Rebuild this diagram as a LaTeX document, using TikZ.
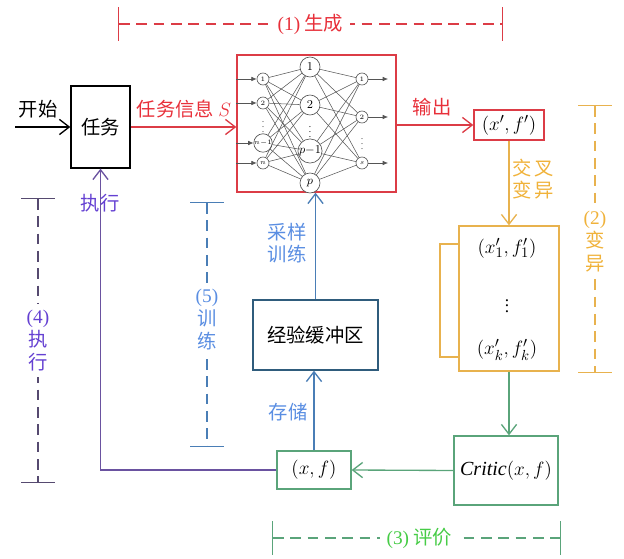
\documentclass[tikz,border=0pt]{standalone}
\usepackage{fontspec}
\setmainfont{Liberation Serif}
\newfontfamily\cjk{Noto Sans CJK SC}
\usepackage{tikz}
\usetikzlibrary{arrows.meta, calc}
\definecolor{genred}{HTML}{DC3C46}
\definecolor{gentext}{HTML}{E8303A}
\definecolor{mutgold}{HTML}{E8B24E}
\definecolor{muttext}{HTML}{F0B23A}
\definecolor{evalgreen}{HTML}{5AA47A}
\definecolor{evaltext}{HTML}{46CC46}
\definecolor{trainblue}{HTML}{4A7EB6}
\definecolor{traintext}{HTML}{5A8EE2}
\definecolor{bufferblue}{HTML}{2F5C7C}
\definecolor{execpurple}{HTML}{6A52A0}
\definecolor{exectext}{HTML}{6440D2}
\definecolor{execdark}{HTML}{564A70}
\definecolor{nngray}{HTML}{555555}
\tikzset{
  cn/.style={font=\cjk\fontsize{14.5}{17}\selectfont, align=center, inner sep=1pt},
  box/.style={draw, line width=1pt, fill=white, align=center, font=\fontsize{15}{17}\selectfont, inner sep=2pt},
  tip/.style={-{Straight Barb[length=2.6mm, width=4mm]}},
  flow/.style={tip, line width=1pt},
  phase/.style={line width=1pt, dash pattern=on 8pt off 5pt, {Bar[width=25pt]}-{Bar[width=25pt]}},
  phaselabel/.style={cn, fill=white, inner sep=5pt},
  inneuron/.style={circle, draw=nngray, fill=white, line width=0.5pt, minimum size=9pt, inner sep=0pt, font=\fontsize{5.5}{5.5}\selectfont},
  hidneuron/.style={circle, draw=nngray, fill=white, line width=0.5pt, minimum size=15pt, inner sep=0pt, font=\fontsize{9}{9}\selectfont},
  synapse/.style={draw=nngray, line width=0.4pt},
  nnarrow/.style={draw=nngray, line width=0.5pt, -{Latex[length=1.4mm, width=1.2mm]}},
}

\begin{document}
\begin{tikzpicture}[x=0.75pt, y=-0.75pt]
  \useasboundingbox (0,0) rectangle (624,559);

  % Main blocks
  \node[box, draw=black, cn, minimum width=44.25pt, minimum height=61.5pt] (task) at (100.5,127) {任务};
  \node[box, draw=genred, minimum width=119.25pt, minimum height=102.75pt, fill=none] (nn) at (316.5,123.5) {};
  \node[box, draw=genred, minimum width=52.5pt, minimum height=22.5pt] (out) at (509,125) {$(x',f')$};
  \node[box, draw=mutgold, minimum width=75pt, minimum height=108.75pt] (pop) at (509,298.5) {};
  \node[box, draw=evalgreen, minimum width=78pt, minimum height=51.75pt] (critic) at (506,470.5) {\textit{Critic}$(x,f)$};
  \node[box, draw=evalgreen, minimum width=55.5pt, minimum height=28.5pt] (xf) at (314,470) {$(x,f)$};
  \node[box, draw=bufferblue, cn, minimum width=93.75pt, minimum height=52.5pt] (buffer) at (315.5,335) {经验缓冲区};

  % Population inside the mutation box
  \node[font=\fontsize{15}{17}\selectfont] (p1) at (507,248) {$(x'_1,f'_1)$};
  \node[font=\fontsize{13}{15}\selectfont] (pdots) at (507,302) {$\vdots$};
  \node[font=\fontsize{15}{17}\selectfont] (pk) at (507,350) {$(x'_k,f'_k)$};

  % Neural network
  \foreach \i/\y/\t in {1/79/1, 2/103/2, 3/143/{n{-}1}, 4/163/n}
    \node[inneuron] (in\i) at (263,\y) {$\t$};
  \foreach \i/\y/\t in {1/67/1, 2/105/2, 3/151/{p{-}1}, 4/183/p}
    \node[hidneuron] (h\i) at (310,\y) {$\t$};
  \foreach \i/\y/\t in {1/79/1, 2/117/2, 3/163/s}
    \node[inneuron] (o\i) at (362,\y) {$\t$};
  \node[font=\fontsize{6}{6}\selectfont] (indots) at (263,123) {$\vdots$};
  \node[font=\fontsize{7}{7}\selectfont] (hdots) at (310,128) {$\vdots$};
  \node[font=\fontsize{6}{6}\selectfont] (odots) at (362,140) {$\vdots$};
  \foreach \i in {1,...,4}
    \foreach \j in {1,...,4}
      \draw[synapse] (in\i) -- (h\j);
  \foreach \j in {1,...,4}
    \foreach \k in {1,...,3}
      \draw[synapse] (h\j) -- (o\k);
  \coordinate (nnout) at (388,0);
  \foreach \i in {1,...,4}
    \draw[nnarrow] (in\i -| nn.west) -- (in\i);
  \foreach \k in {1,...,3}
    \draw[nnarrow] (o\k) -- (o\k -| nnout);

  % Connectors
  \coordinate (start) at (15,127);
  \draw[flow, draw=black] (start) -- (task.west);
  \node[cn] (startlbl) at (38,109) {开始};
  \draw[flow, draw=genred] (task.east |- start) -- (nn.west |- start);
  \node[cn, text=gentext] (infolbl) at (184,109) {任务信息 $S$};
  \draw[flow, draw=genred] (nn.east |- out) -- (out.west);
  \node[cn, text=gentext] (outlbl) at (432,107) {输出};
  \draw[flow, draw=mutgold] (out.south) -- (out.south |- pop.north);
  \node[cn, text=muttext] (crosslbl) at (533,179) {交\,叉\\变\,异};
  \coordinate (lp1) at (440,244);
  \coordinate (lp2) at (440,357);
  \draw[mutgold, line width=1pt] (pop.west |- lp1) -- (lp1) -- (lp2) -- (pop.west |- lp2);
  \draw[flow, draw=evalgreen] (pop.south) -- (pop.south |- critic.north);
  \draw[flow, draw=evalgreen] (critic.west) -- (xf.east);
  \draw[flow, draw=trainblue] (xf.north) -- (xf.north |- buffer.south);
  \node[cn, text=traintext] (storelbl) at (288,412) {存储};
  \draw[flow, draw=trainblue] (buffer.north) -- (buffer.north |- nn.south);
  \node[cn, text=traintext] (samplelbl) at (287,243) {采样\\训练};
  \draw[flow, draw=execpurple] (xf.west) -- (xf.west -| task.south) -- (task.south);
  \node[cn, text=exectext] (execlbl) at (100,203) {执行};

  % Phase brackets
  \coordinate (g1) at (118,24);
  \coordinate (g2) at (503,24);
  \draw[phase, genred] (g1) -- node[phaselabel, text=gentext] {{\rmfamily (1)} 生成} (g2);
  \coordinate (m1) at (595,105);
  \coordinate (m2) at (595,373);
  \draw[phase, mutgold] (m1) -- node[phaselabel, text=muttext, pos=0.51] {{\rmfamily (2)}\\变\\异} (m2);
  \coordinate (e1) at (272,538);
  \coordinate (e2) at (561,538);
  \draw[phase, evalgreen] (e1) -- node[phaselabel, text=evaltext, pos=0.51] {{\rmfamily (3)} 评价} (e2);
  \coordinate (x1) at (38,198);
  \coordinate (x2) at (38,483);
  \draw[phase, execdark] (x1) -- node[phaselabel, text=exectext, pos=0.5] {{\rmfamily (4)}\\执\\行} (x2);
  \coordinate (t1) at (207,202);
  \coordinate (t2) at (207,447);
  \draw[phase, trainblue] (t1) -- node[phaselabel, text=traintext, pos=0.48] {{\rmfamily (5)}\\训\\练} (t2);
\end{tikzpicture}
\end{document}
